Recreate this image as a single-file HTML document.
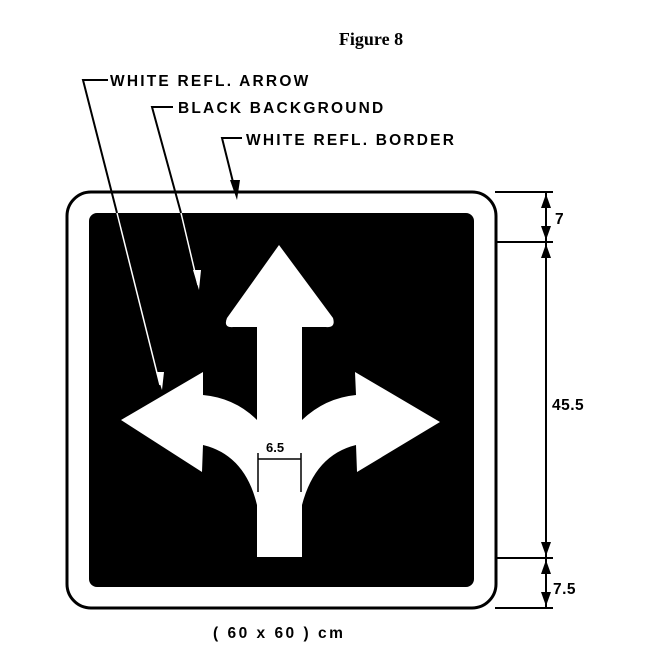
<!DOCTYPE html>
<html><head><style>body{margin:0;background:#fff}svg{display:block}</style></head><body>
<svg width="658" height="665" viewBox="0 0 658 665" xmlns="http://www.w3.org/2000/svg">
<rect width="658" height="665" fill="#fff"/>
<text x="371" y="45" text-anchor="middle" font-family="Liberation Serif,serif" font-weight="bold" font-size="18">Figure 8</text>
<rect x="67" y="192" width="429" height="416" rx="24" fill="#fff" stroke="#000" stroke-width="3"/>
<rect x="89" y="213" width="385" height="374" rx="8" fill="#000"/>
<path d="M279,245 L333,318 Q336,328 326,327 L302,327 L302,420 Q325,398 356,395 L355,372 L440,422 L357,472 L356,445 Q315,455 302,505 L302,557 L257,557 L257,505 Q245,455 203,445 L202,472 L121,420 L203,372 L203,395 Q235,398 257,420 L257,327 L233,327 Q223,328 227,318 Z" fill="#fff"/>
<g font-family="Liberation Sans,sans-serif" font-weight="bold" font-size="15.5" letter-spacing="2.2">
<text x="110" y="86">WHITE REFL. ARROW</text>
<text x="178" y="113">BLACK BACKGROUND</text>
<text x="246" y="145">WHITE REFL. BORDER</text>
<text x="555" y="224">7</text>
<text x="552" y="410" letter-spacing="0.5">45.5</text>
<text x="553" y="594" letter-spacing="0.5">7.5</text>
<text x="213" y="638" letter-spacing="2.5">( 60 x 60 ) cm</text>
<text x="266" y="452" letter-spacing="0" font-size="13">6.5</text>
</g>
<g stroke="#000" stroke-width="2" fill="none">
<path d="M108,80 H83 L117,213"/>
<path d="M173,107 H152 L181,213"/>
<path d="M242,138 H222 L235,190"/>
<path d="M495,192 H553 M495,242 H553 M495,558 H553 M495,608 H553 M546,192 V608"/>
<path d="M258,453 V492 M301,453 V492 M258,459 H301" stroke-width="1.5"/>
</g>
<g stroke="#fff" stroke-width="1.5" fill="none">
<path d="M117,213 L160,385"/>
<path d="M181,213 L198,285"/>
</g>
<polygon points="156,372 164,372 162,390" fill="#fff"/>
<polygon points="193,270 201,270 199,290" fill="#fff"/>
<polygon points="230,180 240,180 237,200" fill="#000"/>
<g fill="#000">
<polygon points="541,208 551,208 546,194"/><polygon points="541,226 551,226 546,240"/>
<polygon points="541,258 551,258 546,244"/><polygon points="541,542 551,542 546,556"/>
<polygon points="541,574 551,574 546,560"/><polygon points="541,592 551,592 546,606"/>
</g>
</svg>
</body></html>
